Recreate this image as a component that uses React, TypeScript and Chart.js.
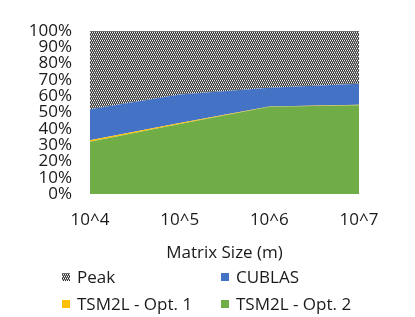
import React, { useEffect, useRef } from "react";
import { Chart, registerables } from "chart.js";

Chart.register(...registerables);

const categories = ["10^4", "10^5", "10^6", "10^7"];
const opt2Values = [32, 43, 53.5, 54.5];
const opt1Values = [1, 0.5, 0.2, 0.2];
const cublasValues = [19, 17.5, 11.5, 13];
const peakValues = [48, 39, 34.8, 32.3];
const yTickValues = [0, 10, 20, 30, 40, 50, 60, 70, 80, 90, 100];

const GREEN = "#70AD47";
const YELLOW = "#FFC000";
const BLUE = "#4472C4";
const TEXT = "#1a1a1a";
const FONT_FAMILY = '"Open Sans", "Liberation Sans", sans-serif';
const FONT_SIZE = 17;

function makePattern(): CanvasPattern | string {
  const c = document.createElement("canvas");
  c.width = 4;
  c.height = 4;
  const g = c.getContext("2d");
  if (!g) return "#7f7f7f";
  g.fillStyle = "#6f6f6f";
  g.fillRect(0, 0, 4, 4);
  g.fillStyle = "#f4f4f4";
  g.fillRect(0, 0, 1, 1);
  g.fillRect(2, 0, 1, 1);
  g.fillRect(1, 2, 1, 1);
  g.fillRect(3, 2, 1, 1);
  g.fillStyle = "#2a2a2a";
  g.fillRect(1, 0, 1, 1);
  g.fillRect(3, 0, 1, 1);
  g.fillRect(0, 2, 1, 1);
  g.fillRect(2, 2, 1, 1);
  const p = g.createPattern(c, "repeat");
  return p || "#7f7f7f";
}

export default function App() {
  const ref = useRef<HTMLCanvasElement | null>(null);

  useEffect(() => {
    if (!ref.current) return;
    const pattern = makePattern();

    const legendItems = [
      { label: "Peak", color: pattern, col: 0, row: 0 },
      { label: "CUBLAS", color: BLUE, col: 1, row: 0 },
      { label: "TSM2L - Opt. 1", color: YELLOW, col: 0, row: 1 },
      { label: "TSM2L - Opt. 2", color: GREEN, col: 1, row: 1 },
    ];

    const gridLegend = {
      id: "gridLegend",
      afterDraw(chart: any) {
        const ctx = chart.ctx as CanvasRenderingContext2D;
        const colX = [62, 221];
        const rowY = [277, 304];
        ctx.save();
        ctx.font = `${FONT_SIZE}px ${FONT_FAMILY}`;
        ctx.textBaseline = "middle";
        ctx.textAlign = "left";
        legendItems.forEach((it) => {
          const x = colX[it.col];
          const y = rowY[it.row];
          ctx.fillStyle = it.color as any;
          ctx.fillRect(x, y - 4, 8, 8);
          ctx.fillStyle = TEXT;
          ctx.fillText(it.label, x + 15, y + 1);
        });
        ctx.restore();
      },
    };

    const chart = new Chart(ref.current, {
      type: "line",
      data: {
        labels: categories,
        datasets: [
          {
            label: "TSM2L - Opt. 2",
            data: opt2Values,
            backgroundColor: GREEN,
            borderWidth: 0,
            pointRadius: 0,
            fill: "origin",
          },
          {
            label: "TSM2L - Opt. 1",
            data: opt1Values,
            backgroundColor: YELLOW,
            borderWidth: 0,
            pointRadius: 0,
            fill: "-1",
          },
          {
            label: "CUBLAS",
            data: cublasValues,
            backgroundColor: BLUE,
            borderWidth: 0,
            pointRadius: 0,
            fill: "-1",
          },
          {
            label: "Peak",
            data: peakValues,
            backgroundColor: pattern as any,
            borderWidth: 0,
            pointRadius: 0,
            fill: "-1",
          },
        ],
      },
      options: {
        animation: false,
        responsive: false,
        devicePixelRatio: 1,
        layout: { padding: { top: 31, right: 56, bottom: 53, left: 0 } },
        plugins: { legend: { display: false }, tooltip: { enabled: false } },
        elements: { line: { tension: 0 } },
        scales: {
          x: {
            offset: false,
            grid: { display: false, drawTicks: false },
            border: { display: false },
            ticks: {
              color: TEXT,
              font: { family: FONT_FAMILY, size: FONT_SIZE },
              padding: 16,
              maxRotation: 0,
              autoSkip: false,
            },
            title: {
              display: true,
              text: "Matrix Size (m)",
              color: TEXT,
              font: { family: FONT_FAMILY, size: FONT_SIZE },
              padding: { top: 4, bottom: 1 },
            },
            afterFit: (s: any) => {
              s.height = 70;
            },
          },
          y: {
            stacked: true,
            min: 0,
            max: 100,
            grid: { display: false, drawTicks: false },
            border: { display: false },
            afterBuildTicks: (s: any) => {
              s.ticks = yTickValues.map((v) => ({ value: v }));
            },
            ticks: {
              color: TEXT,
              font: { family: FONT_FAMILY, size: FONT_SIZE },
              padding: 18,
              autoSkip: false,
              callback: (v: any) => `${v}%`,
            },
            afterFit: (s: any) => {
              s.width = 90;
            },
          },
        },
      },
      plugins: [gridLegend],
    });

    return () => chart.destroy();
  }, []);

  return (
    <div style={{ position: "absolute", left: 0, top: 0, width: 415, height: 317 }}>
      <canvas ref={ref} width={415} height={317} />
    </div>
  );
}
